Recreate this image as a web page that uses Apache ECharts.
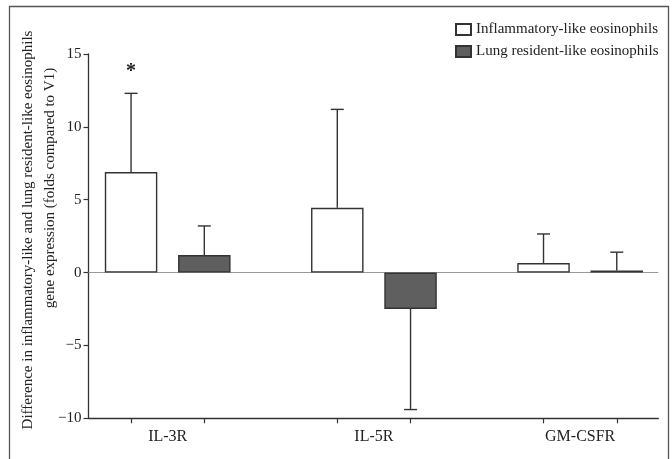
<!DOCTYPE html>
<html>
<head>
<meta charset="utf-8">
<script src="https://cdn.jsdelivr.net/npm/echarts@6/dist/echarts.min.js"></script>
<style>
  html, body { margin: 0; padding: 0; background: #fff; }
  #chart { width: 672px; height: 459px; }
</style>
</head>
<body>
<div id="chart"></div>
<script>
// Receptor gene expression changes (fold vs V1), mean with one-sided error bars
const categories = ['IL-3R', 'IL-5R', 'GM-CSFR'];
const seriesNames = ['Inflammatory-like eosinophils', 'Lung resident-like eosinophils'];
const inflammatoryMean = [6.9, 4.45, 0.65];
const inflammatoryErr = [12.3, 11.2, 2.65];   // end of error whisker
const residentMean = [1.2, -2.5, 0.15];
const residentErr = [3.2, -9.4, 1.4];
const significance = ['*', '', ''];
const yTicks = [-10, -5, 0, 5, 10, 15];

const FONT = 'Liberation Serif';
const INK = '#333';
const OFFSET = 0.1776;   // half distance between paired bars, in category units

const xOf = (i, s) => i + (s === 0 ? -OFFSET : OFFSET);

const barData = (means, s) => means.map((v, i) => [xOf(i, s), v]);
const tickValues = [];
categories.forEach((c, i) => { tickValues.push(xOf(i, 0), xOf(i, 1)); });

const errRows = [];
categories.forEach((c, i) => {
  errRows.push([xOf(i, 0), inflammatoryMean[i], inflammatoryErr[i], significance[i]]);
  errRows.push([xOf(i, 1), residentMean[i], residentErr[i], '']);
});

const chart = echarts.init(document.getElementById('chart'), null, { renderer: 'canvas' });

chart.setOption({
  animation: false,
  backgroundColor: '#fff',
  grid: { left: 88.5, right: 13.7, top: 54, bottom: 40.7, containLabel: false },
  legend: {
    orient: 'vertical',
    left: 450,
    top: 17,
    itemWidth: 15,
    itemHeight: 11,
    itemGap: 7,
    icon: 'rect',
    textStyle: { fontFamily: FONT, fontSize: 15, color: '#222' },
    data: seriesNames
  },
  xAxis: {
    type: 'value',
    min: -0.384,
    max: 2.379,
    splitLine: { show: false },
    axisLine: { show: true, onZero: false, lineStyle: { color: INK, width: 1.3 } },
    axisTick: { show: true, length: 5, customValues: tickValues, lineStyle: { color: INK, width: 1.2 } },
    axisLabel: {
      customValues: [0, 1, 2],
      formatter: v => categories[Math.round(v)],
      fontFamily: FONT, fontSize: 16, color: '#222', margin: 10
    }
  },
  yAxis: {
    type: 'value',
    min: yTicks[0],
    max: yTicks[yTicks.length - 1],
    interval: 5,
    splitLine: { show: false },
    axisLine: { show: true, onZero: false, lineStyle: { color: INK, width: 1.3 } },
    axisTick: { show: true, length: 5, lineStyle: { color: INK, width: 1.2 } },
    axisLabel: {
      fontFamily: FONT, fontSize: 15, color: '#222', margin: 7,
      formatter: v => (v < 0 ? '\u2212' + Math.abs(v) : String(v))
    }
  },
  series: [
    {
      name: seriesNames[0],
      type: 'bar',
      barWidth: 52.5,
      barGap: '-100%',
      data: barData(inflammatoryMean, 0),
      itemStyle: { color: '#ffffff', borderColor: INK, borderWidth: 1.4 },
      z: 3,
      markLine: {
        silent: true,
        symbol: 'none',
        label: { show: false },
        lineStyle: { color: '#999', width: 1.2, type: 'solid' },
        data: [{ yAxis: 0 }],
        z: 1
      }
    },
    {
      name: seriesNames[1],
      type: 'bar',
      barWidth: 52.5,
      barGap: '-100%',
      data: barData(residentMean, 1),
      itemStyle: { color: '#5f5f5f', borderColor: INK, borderWidth: 1.4 },
      z: 3
    },
    {
      type: 'custom',
      z: 4,
      silent: true,
      data: errRows,
      renderItem: (params, api) => {
        const x = api.value(0);
        const base = api.coord([x, api.value(1)]);
        const tip = api.coord([x, api.value(2)]);
        const cap = 6.5;
        const style = { stroke: INK, lineWidth: 1.4 };
        const children = [
          { type: 'line', shape: { x1: base[0], y1: base[1], x2: tip[0], y2: tip[1] }, style },
          { type: 'line', shape: { x1: tip[0] - cap, y1: tip[1], x2: tip[0] + cap, y2: tip[1] }, style }
        ];
        const mark = errRows[params.dataIndex][3];
        if (mark) {
          children.push({
            type: 'text',
            style: {
              text: mark, x: tip[0], y: tip[1] - 22,
              align: 'center', verticalAlign: 'middle',
              font: 'bold 20px ' + FONT, fill: '#222'
            }
          });
        }
        return { type: 'group', children };
      }
    }
  ],
  graphic: [
    {
      type: 'rect',
      shape: { x: 9.5, y: 6.5, width: 659, height: 470 },
      style: { fill: 'none', stroke: '#555', lineWidth: 1.3 },
      silent: true
    },
    {
      type: 'text',
      x: 28, y: 230, rotation: Math.PI / 2,
      style: {
        text: 'Difference in inflammatory-like and lung resident-like eosinophils',
        font: '15px ' + FONT, fill: '#222', align: 'center', verticalAlign: 'middle'
      }
    },
    {
      type: 'text',
      x: 50, y: 188, rotation: Math.PI / 2,
      style: {
        text: 'gene expression (folds compared to V1)',
        font: '15px ' + FONT, fill: '#222', align: 'center', verticalAlign: 'middle'
      }
    }
  ]
});
</script>
</body>
</html>
